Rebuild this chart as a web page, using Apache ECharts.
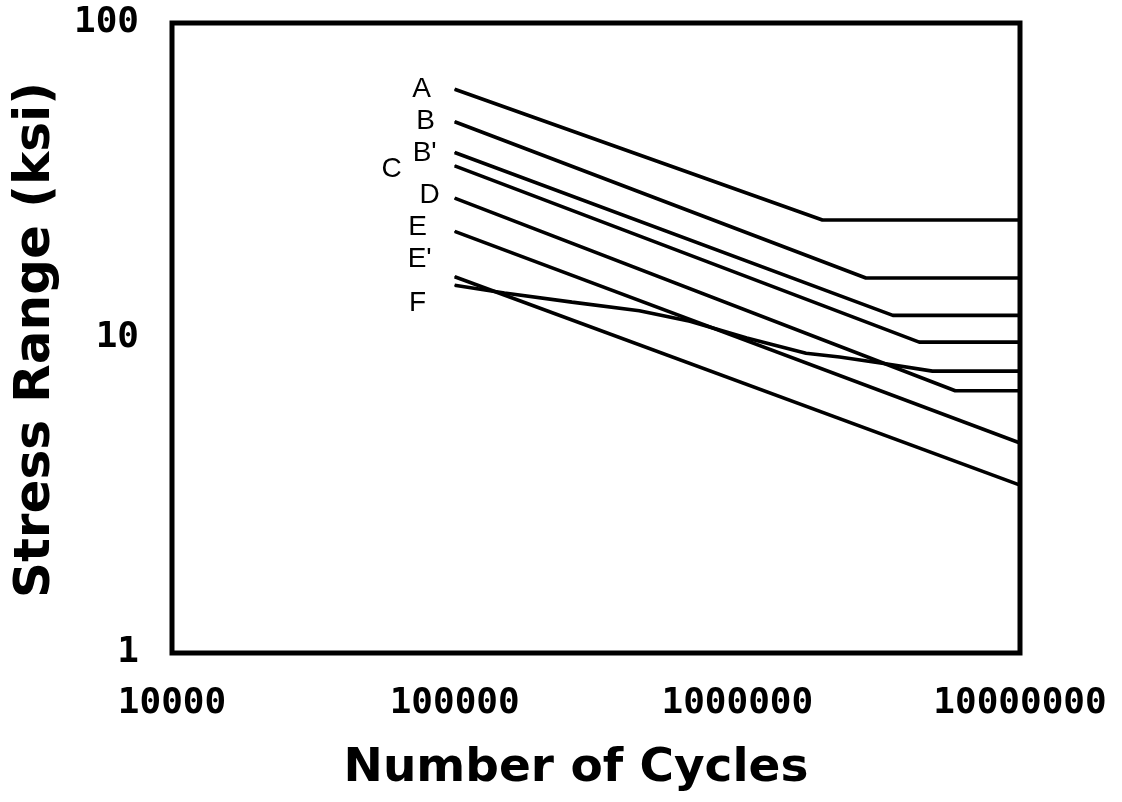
<!DOCTYPE html>
<html>
<head>
<meta charset="utf-8">
<script src="https://cdn.jsdelivr.net/npm/echarts@6/dist/echarts.min.js"></script>
<style>
  html, body { margin: 0; padding: 0; background: #fff; }
  #chart { width: 1122px; height: 802px; }
</style>
</head>
<body>
<div id="chart"></div>
<script>
// Fatigue detail categories and their S-N curves: [cycles, stress range in ksi]
const categories = ['A', 'B', "B'", 'C', 'D', 'E', "E'", 'F'];

const curveA      = [[1e5, 61.6], [2.0e6, 23.7], [1e7, 23.7]];
const curveB      = [[1e5, 48.6], [2.85e6, 15.5], [1e7, 15.5]];
const curveBprime = [[1e5, 38.8], [3.55e6, 11.8], [1e7, 11.8]];
const curveC      = [[1e5, 35.2], [4.4e6, 9.7], [1e7, 9.7]];
const curveD      = [[1e5, 27.8], [5.9e6, 6.8], [1e7, 6.8]];
const curveE      = [[1e5, 21.8], [1e7, 4.64]];
const curveEprime = [[1e5, 15.65], [1e7, 3.41]];
const curveF      = [[1e5, 14.7], [1.5e5, 13.9], [2.6e5, 13.0], [4.5e5, 12.2], [6.8e5, 11.3],
                     [1.08e6, 10.0], [1.75e6, 8.95], [2.3e6, 8.7], [3.3e6, 8.3], [4.9e6, 7.85], [1e7, 7.85]];

const curves = [curveA, curveB, curveBprime, curveC, curveD, curveE, curveEprime, curveF];

// Axis tick labels, one per decade
const xTickLabels = ['10000', '100000', '1000000', '10000000'];
const yTickLabels = ['1', '10', '100'];

// Where each category letter sits relative to the start of its curve (px)
const letterOffsets = [[-33, 0], [-29, 0], [-30, 1], [-63, 3], [-25, -3], [-37, -4], [-35, -17], [-37, 18]];

const chart = echarts.init(document.getElementById('chart'), null, { renderer: 'canvas' });

const tickFont = {
  color: '#000',
  fontFamily: 'DejaVu Sans Mono',
  fontWeight: 'bold',
  fontSize: 36
};

const series = curves.map((pts, i) => ({
  type: 'line',
  name: categories[i],
  symbol: 'circle',
  symbolSize: 1,
  showSymbol: true,
  silent: true,
  lineStyle: { color: '#000', width: 3.6 },
  itemStyle: { color: '#000' },
  label: { show: false },
  emphasis: { disabled: true },
  data: pts.map((p, j) => j === 0 ? {
    value: p,
    label: {
      show: true,
      formatter: categories[i],
      position: 'inside',
      align: 'center',
      verticalAlign: 'middle',
      offset: letterOffsets[i],
      color: '#000',
      fontFamily: 'Liberation Sans',
      fontSize: 28
    }
  } : p)
}));

chart.setOption({
  animation: false,
  backgroundColor: '#fff',
  grid: {
    left: 172, right: 102, top: 23, bottom: 149,
    show: true, borderColor: '#000', borderWidth: 5, backgroundColor: 'transparent'
  },
  xAxis: {
    type: 'log', logBase: 10, min: 1e4, max: 1e7,
    axisLine: { show: false }, axisTick: { show: false }, splitLine: { show: false },
    axisLabel: Object.assign({
      margin: 33,
      formatter: v => xTickLabels[Math.round(Math.log10(v)) - 4]
    }, tickFont)
  },
  yAxis: {
    type: 'log', logBase: 10, min: 1, max: 100,
    axisLine: { show: false }, axisTick: { show: false }, splitLine: { show: false },
    axisLabel: Object.assign({
      margin: 33,
      formatter: v => yTickLabels[Math.round(Math.log10(v))]
    }, tickFont)
  },
  graphic: [
    {
      type: 'text', x: 576, y: 769,
      style: {
        text: 'Number of Cycles',
        fill: '#000',
        font: 'bold 47px "DejaVu Sans"',
        textAlign: 'center', textVerticalAlign: 'middle',
        align: 'center', verticalAlign: 'middle'
      }
    },
    {
      type: 'text', x: 36, y: 340, rotation: Math.PI / 2,
      style: {
        text: 'Stress Range (ksi)',
        fill: '#000',
        font: 'bold 50px "DejaVu Sans"',
        textAlign: 'center', textVerticalAlign: 'middle',
        align: 'center', verticalAlign: 'middle'
      }
    }
  ],
  series: series
});
</script>
</body>
</html>
